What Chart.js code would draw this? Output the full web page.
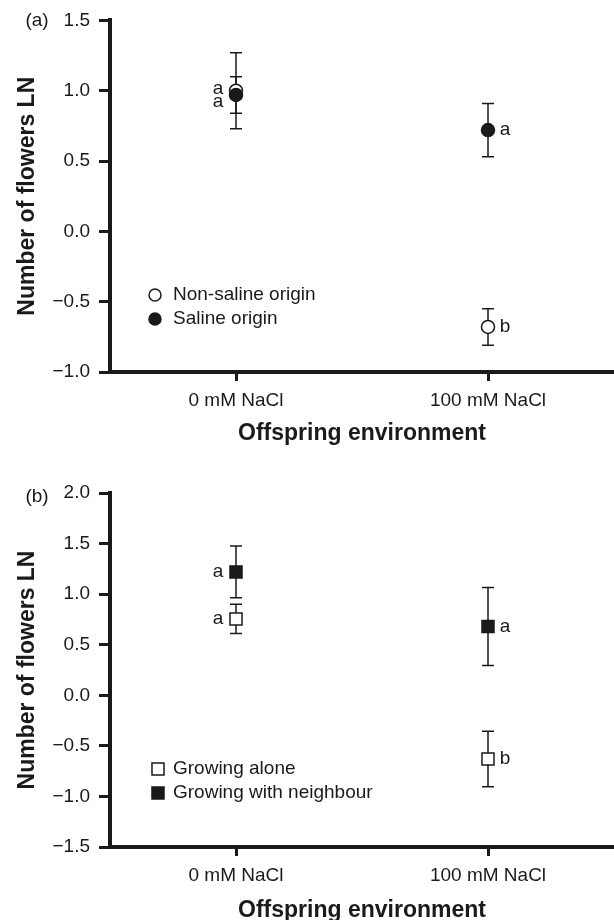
<!DOCTYPE html>
<html>
<head>
<meta charset="utf-8">
<script src="https://cdn.jsdelivr.net/npm/chart.js@4.4.0/dist/chart.umd.min.js"></script>
<style>
body { margin: 0; background: #fff; }
#panelA { position: absolute; left: 0; top: 0; }
#panelB { position: absolute; left: 0; top: 450px; }
</style>
</head>
<body>
<canvas id="panelA" width="614" height="450"></canvas>
<canvas id="panelB" width="614" height="470"></canvas>
<script>
var envLabels = ['0 mM NaCl', '100 mM NaCl'];
var envX = [0, 1];

// (a) origin of the seeds
var nonSalineMean = [1.00, -0.68];
var nonSalineSE = [0.27, 0.13];
var nonSalineLetters = ['a', 'b'];
var salineMean = [0.97, 0.72];
var salineSE = [0.13, 0.19];
var salineLetters = ['a', 'a'];
var yTicksA = [-1.0, -0.5, 0.0, 0.5, 1.0, 1.5];

// (b) neighbour treatment
var aloneMean = [0.755, -0.63];
var aloneSE = [0.145, 0.275];
var aloneLetters = ['a', 'b'];
var neighbourMean = [1.22, 0.68];
var neighbourSE = [0.255, 0.385];
var neighbourLetters = ['a', 'a'];
var yTicksB = [-1.5, -1.0, -0.5, 0.0, 0.5, 1.0, 1.5, 2.0];

var FONT = "'Liberation Sans', Arial, sans-serif";
var INK = '#1a1a1a';

function points(means) {
	return envX.map(function(x, i) { return { x: x, y: means[i] }; });
}

function fmt(v) {
	return v < 0 ? '\u2212' + Math.abs(v).toFixed(1) : v.toFixed(1);
}

function marker(ctx, style, filled, x, y, r) {
	ctx.beginPath();
	if (style === 'rect') {
		var s = r * Math.SQRT1_2;
		ctx.rect(x - s, y - s, 2 * s, 2 * s);
	} else {
		ctx.arc(x, y, r, 0, Math.PI * 2);
	}
	ctx.fillStyle = filled ? INK : '#fff';
	ctx.fill();
	ctx.lineWidth = 1.5;
	ctx.strokeStyle = INK;
	ctx.stroke();
}

var extras = {
	id: 'extras',
	beforeDatasetsDraw: function(chart) {
		var ctx = chart.ctx, y = chart.scales.y;
		ctx.save();
		ctx.strokeStyle = INK;
		ctx.lineWidth = 1.5;
		chart.data.datasets.forEach(function(ds, di) {
			chart.getDatasetMeta(di).data.forEach(function(pt, i) {
				var top = y.getPixelForValue(ds.data[i].y + ds.se[i]),
					bot = y.getPixelForValue(ds.data[i].y - ds.se[i]);
				ctx.beginPath();
				ctx.moveTo(pt.x, top); ctx.lineTo(pt.x, bot);
				ctx.moveTo(pt.x - 6, top); ctx.lineTo(pt.x + 6, top);
				ctx.moveTo(pt.x - 6, bot); ctx.lineTo(pt.x + 6, bot);
				ctx.stroke();
			});
		});
		ctx.restore();
	},
	afterDatasetsDraw: function(chart, args, opts) {
		var ctx = chart.ctx;
		ctx.save();
		ctx.font = '19px ' + FONT;
		ctx.fillStyle = INK;
		ctx.textBaseline = 'middle';
		ctx.textAlign = 'center';

		// significance letters
		chart.data.datasets.forEach(function(ds, di) {
			chart.getDatasetMeta(di).data.forEach(function(pt, i) {
				var dx = i === 0 ? -18 : 17;
				ctx.fillStyle = INK;
				ctx.fillText(ds.letters[i], pt.x + dx, pt.y + (ds.letterDy ? ds.letterDy[i] : 0));
			});
		});

		// legend
		var lg = opts.legend;
		[0, 1].forEach(function(di, row) {
			var ds = chart.data.datasets[di],
				ly = lg.y + row * lg.gap;
			marker(ctx, ds.pointStyle, ds.backgroundColor !== '#fff', lg.x, ly, ds.pointStyle === 'rect' ? 8.5 : 6);
			ctx.fillStyle = INK;
			ctx.textAlign = 'left';
			ctx.fillText(ds.label, lg.textX, ly);
		});

		// panel tag
		ctx.textAlign = 'center';
		ctx.fillText(opts.tag, 37, chart.chartArea.top + opts.tagDy);
		ctx.restore();
	}
};

function panel(id, tag, yTicks, sets, padTop, xHeight, titlePad, legend, tagDy) {
	return new Chart(document.getElementById(id), {
		type: 'scatter',
		data: { datasets: sets },
		options: {
			responsive: false,
			animation: false,
			layout: { autoPadding: false, padding: { top: padTop, right: 0, bottom: 0, left: 0 } },
			plugins: {
				legend: { display: false },
				tooltip: { enabled: false },
				extras: { tag: tag, tagDy: tagDy, legend: legend }
			},
			scales: {
				x: {
					type: 'linear',
					min: -0.5,
					max: 1.5,
					afterBuildTicks: function(ax) {
						ax.ticks = envX.map(function(v) { return { value: v }; });
					},
					afterFit: function(ax) { ax.height = xHeight; },
					ticks: {
						callback: function(v) { return envLabels[envX.indexOf(v)]; },
						color: INK,
						font: { family: FONT, size: 19 },
						padding: 8,
						maxRotation: 0,
						autoSkip: false
					},
					grid: { drawOnChartArea: false, color: INK, lineWidth: 3, tickLength: 9 },
					border: { color: INK, width: 4 },
					title: {
						display: true,
						text: 'Offspring environment',
						color: INK,
						font: { family: FONT, size: 23, weight: 'bold', lineHeight: 0.85 },
						padding: { top: 0, bottom: titlePad }
					}
				},
				y: {
					type: 'linear',
					min: yTicks[0],
					max: yTicks[yTicks.length - 1],
					afterBuildTicks: function(ax) {
						ax.ticks = yTicks.map(function(v) { return { value: v }; });
					},
					afterFit: function(ax) { ax.width = 110; },
					ticks: {
						callback: function(v) { return fmt(v); },
						color: INK,
						font: { family: FONT, size: 19 },
						padding: 9
					},
					grid: { drawOnChartArea: false, color: INK, lineWidth: 3, tickLength: 11 },
					border: { color: INK, width: 4 },
					title: {
						display: true,
						text: 'Number of flowers LN',
						color: INK,
						font: { family: FONT, size: 23, weight: 'bold', lineHeight: 1 },
						padding: { top: 16, bottom: 0 }
					}
				}
			}
		},
		plugins: [extras]
	});
}

function series(label, means, se, letters, style, filled, order, letterDy) {
	return {
		label: label,
		data: points(means),
		se: se,
		letters: letters,
		letterDy: letterDy,
		order: order,
		pointStyle: style,
		pointRadius: style === 'rect' ? 8.5 : 6.5,
		pointBorderWidth: 1.5,
		borderColor: INK,
		backgroundColor: filled ? INK : '#fff',
		pointBackgroundColor: filled ? INK : '#fff',
		pointBorderColor: INK,
		showLine: false
	};
}

panel('panelA', '(a)', yTicksA, [
	series('Non-saline origin', nonSalineMean, nonSalineSE, nonSalineLetters, 'circle', false, 2, [-2, 0]),
	series('Saline origin', salineMean, salineSE, salineLetters, 'circle', true, 1, [7, 0])
], 20, 78, 7, { x: 155, textX: 173, y: 295, gap: 24 }, 0);

panel('panelB', '(b)', yTicksB, [
	series('Growing alone', aloneMean, aloneSE, aloneLetters, 'rect', false, 2),
	series('Growing with neighbour', neighbourMean, neighbourSE, neighbourLetters, 'rect', true, 1)
], 43, 73, 0, { x: 158, textX: 173, y: 319, gap: 24 }, 4);
</script>
</body>
</html>
